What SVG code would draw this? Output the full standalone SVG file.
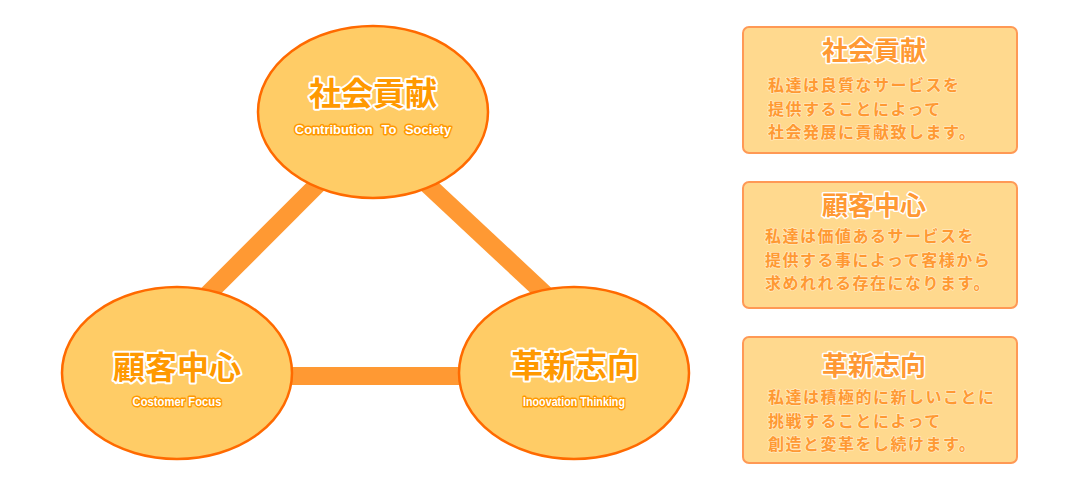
<svg xmlns="http://www.w3.org/2000/svg" width="1080" height="486" viewBox="0 0 1080 486">
<style>
.ell{fill:#FFCC66;stroke:#FF6A00;stroke-width:2.5}
.con{stroke:#FF9933;stroke-width:18;fill:none}
.t1{font-family:"Noto Sans CJK JP",sans-serif;font-weight:bold;font-size:32px;fill:#FF9900;stroke:#fff;stroke-width:4;paint-order:stroke;stroke-linejoin:round;text-anchor:middle}
.t2{font-family:"Liberation Sans",Arial,sans-serif;font-weight:bold;font-size:13px;fill:#fff;stroke:#FF9900;stroke-width:3;paint-order:stroke;stroke-linejoin:round;text-anchor:middle}
.box{fill:#FFD98E;stroke:#FF9955;stroke-width:2}
.bt{font-family:"Noto Sans CJK JP",sans-serif;font-weight:bold;font-size:26px;fill:#FF9933;stroke:#fff;stroke-width:3;paint-order:stroke;stroke-linejoin:round;text-anchor:middle}
.bb{font-family:"Noto Sans CJK JP",sans-serif;font-weight:bold;font-size:16px;letter-spacing:1.5px;fill:#FF9933;stroke:#FFE9BE;stroke-width:1.5;paint-order:stroke;stroke-linejoin:round}
</style>
<g id="connectors">
<line class="con" x1="205" y1="297" x2="318" y2="184"/>
<line class="con" x1="427" y1="184" x2="548" y2="297"/>
<line class="con" x1="285" y1="376" x2="467" y2="376"/>
</g>
<g id="node-society">
<ellipse class="ell" cx="373" cy="112" rx="115" ry="86"/>
<text class="t1" x="373" y="105">社会貢献</text>
<text class="t2" x="373" y="134" word-spacing="5">Contribution To Society</text>
</g>
<g id="node-customer">
<ellipse class="ell" cx="177" cy="373" rx="115" ry="86"/>
<text class="t1" x="177" y="379">顧客中心</text>
<text class="t2" x="177" y="406" textLength="89" lengthAdjust="spacingAndGlyphs">Costomer Focus</text>
</g>
<g id="node-innovation">
<ellipse class="ell" cx="574" cy="373" rx="115" ry="86"/>
<text class="t1" x="575" y="377">革新志向</text>
<text class="t2" x="574" y="406" textLength="102" lengthAdjust="spacingAndGlyphs">Inoovation Thinking</text>
</g>
<g id="box-society">
<rect class="box" x="743" y="27" width="274" height="126" rx="6"/>
<text class="bt" x="874" y="60">社会貢献</text>
<text class="bb" x="768" y="91">私達は良質なサービスを</text>
<text class="bb" x="768" y="114.5">提供することによって</text>
<text class="bb" x="768" y="138">社会発展に貢献致します。</text>
</g>
<g id="box-customer">
<rect class="box" x="743" y="182" width="274" height="126" rx="6"/>
<text class="bt" x="874" y="215">顧客中心</text>
<text class="bb" x="765" y="242">私達は価値あるサービスを</text>
<text class="bb" x="765" y="265.5">提供する事によって客様から</text>
<text class="bb" x="765" y="289">求めれれる存在になります。</text>
</g>
<g id="box-innovation">
<rect class="box" x="743" y="337" width="274" height="126" rx="6"/>
<text class="bt" x="874" y="375">革新志向</text>
<text class="bb" x="768" y="403">私達は積極的に新しいことに</text>
<text class="bb" x="768" y="426.5">挑戦することによって</text>
<text class="bb" x="768" y="450">創造と変革をし続けます。</text>
</g>
</svg>
